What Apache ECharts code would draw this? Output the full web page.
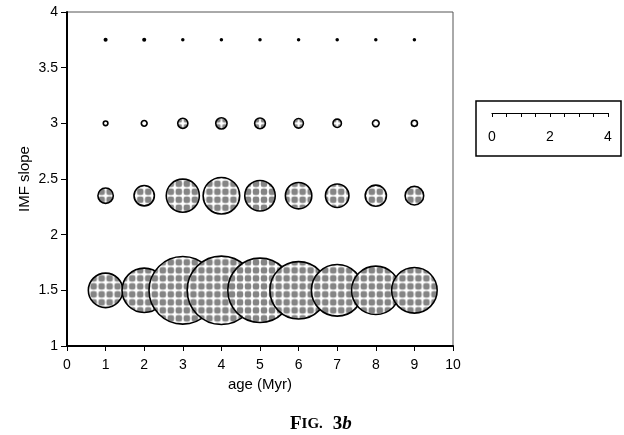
<!DOCTYPE html>
<html>
<head>
<meta charset="utf-8">
<style>
  html, body { margin: 0; padding: 0; background: #fff; }
  #chart { width: 624px; height: 435px; }
</style>
<script src="https://cdn.jsdelivr.net/npm/echarts@6/dist/echarts.min.js"></script>
</head>
<body>
<div id="chart"></div>
<script>
// Cluster age (Myr) along x, IMF slope along y.
const ages = [1, 2, 3, 4, 5, 6, 7, 8, 9];
const slopes = [1.5, 2.35, 3.0, 3.75];

// Bubble diameters, in units of the scale bar (0-4).
const size150 = [1.19, 1.53, 2.33, 2.36, 2.22, 1.98, 1.78, 1.67, 1.57];
const size235 = [0.53, 0.70, 1.14, 1.26, 1.05, 0.91, 0.81, 0.73, 0.64];
const size300 = [0.16, 0.20, 0.35, 0.39, 0.37, 0.33, 0.29, 0.23, 0.21];
const size375 = [0.14, 0.14, 0.12, 0.12, 0.12, 0.12, 0.12, 0.12, 0.12];
const sizeRows = [size150, size235, size300, size375];

// Axis ranges and scale bar.
const xRange = [0, 10];
const yRange = [1, 4];
const scaleRange = [0, 4];
const scaleLabels = [0, 2, 4];

const SCALE_WIDTH = 116;                       // pixel length of the scale bar
const PX_PER_UNIT = SCALE_WIDTH / (scaleRange[1] - scaleRange[0]);

const FONT = '"Liberation Sans", Arial, Helvetica, sans-serif';
const SERIF = '"Liberation Serif", "Times New Roman", serif';

// Halftone screen tile used to fill the bubbles.
function halftoneTile() {
  const c = document.createElement('canvas');
  c.width = 8; c.height = 8;
  const g = c.getContext('2d');
  g.fillStyle = '#ffffff';
  g.fillRect(0, 0, 8, 8);
  g.fillStyle = '#858585';
  g.beginPath();
  const x = 0.75, y = 0.75, w = 6.5, h = 6.5, r = 2.2;
  g.moveTo(x + r, y);
  g.arcTo(x + w, y, x + w, y + h, r);
  g.arcTo(x + w, y + h, x, y + h, r);
  g.arcTo(x, y + h, x, y, r);
  g.arcTo(x, y, x + w, y, r);
  g.closePath();
  g.fill();
  return c;
}
const TILE = halftoneTile();

// Symbols are built at unit size and scaled up, so the screen is scaled
// back down to keep a constant dot pitch inside every bubble.
function halftoneFor(px) {
  const k = 2 / px;
  return { image: TILE, repeat: 'repeat', scaleX: k, scaleY: k, x: 0, y: 0 };
}

const series = slopes.map((slope, r) => {
  const dots = r === slopes.length - 1;
  return {
    name: 'IMF ' + slope,
    type: 'scatter',
    xAxisIndex: 0,
    yAxisIndex: 0,
    data: ages.map((a, i) => {
      const v = sizeRows[r][i];
      const item = { value: [a, slope, v] };
      if (!dots) item.itemStyle = { color: halftoneFor(v * PX_PER_UNIT) };
      return item;
    }),
    symbol: 'circle',
    symbolSize: d => d[2] * PX_PER_UNIT,
    itemStyle: dots
      ? { color: '#000', borderWidth: 0, opacity: 1 }
      : { color: '#aaa', borderColor: '#000', borderWidth: 1.6, opacity: 1 },
    emphasis: { disabled: true }
  };
});

const chart = echarts.init(document.getElementById('chart'), null, { renderer: 'canvas' });

chart.setOption({
  animation: false,
  backgroundColor: '#fff',
  textStyle: { fontFamily: FONT, color: '#000' },
  title: {
    text: '{f|F}{s|IG.}  {n|3}{i|b}',
    left: 285,
    top: 410,
    textStyle: {
      rich: {
        f: { fontFamily: SERIF, fontSize: 19, color: '#000' },
        s: { fontFamily: SERIF, fontSize: 15, color: '#000' },
        n: { fontFamily: SERIF, fontSize: 19, color: '#000' },
        i: { fontFamily: SERIF, fontSize: 19, fontStyle: 'italic', color: '#000' }
      }
    }
  },
  grid: [
    {
      left: 67, top: 12, width: 386, height: 334,
      show: true, borderColor: '#555', borderWidth: 1, backgroundColor: 'transparent'
    },
    { left: 492, top: 80, width: SCALE_WIDTH, height: 33 }
  ],
  graphic: [
    {
      type: 'rect',
      shape: { x: 476, y: 101, width: 145, height: 55 },
      style: { fill: 'none', stroke: '#000', lineWidth: 1.5 }
    }
  ],
  xAxis: [
    {
      gridIndex: 0,
      type: 'value',
      min: xRange[0], max: xRange[1], interval: 1,
      name: 'age (Myr)',
      nameLocation: 'middle',
      nameGap: 31,
      nameMoveOverlap: false,
      nameTextStyle: { fontSize: 15, color: '#000', fontFamily: FONT },
      axisLine: { show: true, onZero: false, lineStyle: { color: '#000', width: 2 } },
      axisTick: { show: true, length: 5, lineStyle: { color: '#000', width: 1 } },
      axisLabel: { fontSize: 14, color: '#000', margin: 12, fontFamily: FONT },
      splitLine: { show: false }
    },
    {
      gridIndex: 1,
      type: 'value',
      min: scaleRange[0], max: scaleRange[1], interval: 0.5,
      position: 'bottom',
      axisLine: { show: true, onZero: false, lineStyle: { color: '#000', width: 1.2 } },
      axisTick: { show: true, length: 4, lineStyle: { color: '#000', width: 1 } },
      axisLabel: {
        fontSize: 14, color: '#000', margin: 17, fontFamily: FONT,
        formatter: v => (scaleLabels.indexOf(v) >= 0 ? String(v) : '')
      },
      splitLine: { show: false }
    }
  ],
  yAxis: [
    {
      gridIndex: 0,
      type: 'value',
      min: yRange[0], max: yRange[1], interval: 0.5,
      name: 'IMF slope',
      nameLocation: 'middle',
      nameGap: 35,
      nameMoveOverlap: false,
      nameTextStyle: { fontSize: 15, color: '#000', fontFamily: FONT },
      axisLine: { show: true, onZero: false, lineStyle: { color: '#000', width: 2 } },
      axisTick: { show: true, length: 6, lineStyle: { color: '#000', width: 1 } },
      axisLabel: { fontSize: 14, color: '#000', margin: 9, fontFamily: FONT },
      splitLine: { show: false }
    },
    {
      gridIndex: 1,
      type: 'value',
      show: false
    }
  ],
  series: series
});
</script>
</body>
</html>
